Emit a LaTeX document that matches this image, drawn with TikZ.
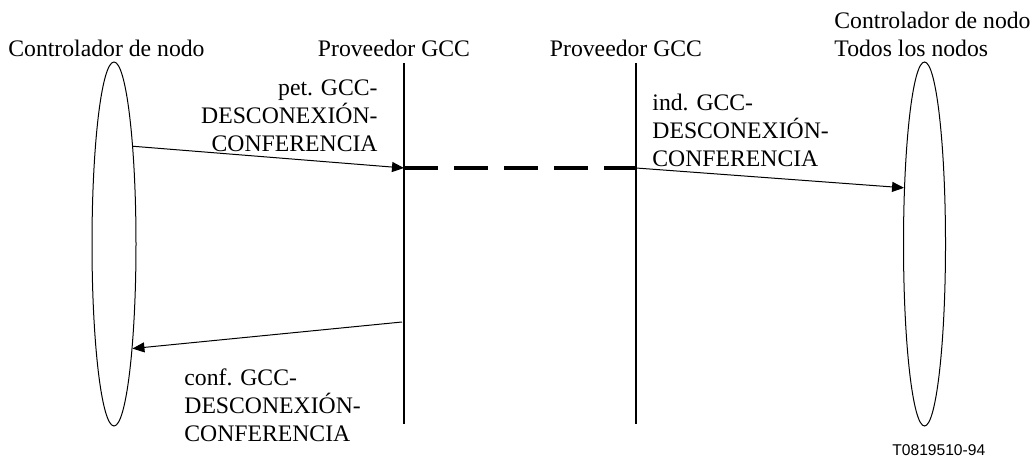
\documentclass[tikz,border=0pt]{standalone}
\usepackage{fontspec}
\setmainfont{Liberation Serif}
\newfontfamily\figsans{Liberation Sans}
\usepackage{tikz}
\usetikzlibrary{arrows.meta, shapes.geometric}

\begin{document}
\begin{tikzpicture}[x=0.5pt, y=-0.5pt,
    every node/.style={font=\fontsize{11.85}{14}\selectfont, inner sep=0pt},
    station/.style={draw, ellipse, line width=0.5pt, minimum width=22pt, minimum height=182pt},
    lifeline/.style={line width=1pt},
    msg/.style={line width=0.5pt, -{Triangle[length=6pt, width=5pt]}},
    link/.style={line width=2pt, dash pattern=on 17pt off 8pt}]
    \useasboundingbox (0,0) rectangle (1032,459);

    % entities
    \node[station] (ctrlA) at (114,244) {};
    \node[station, minimum width=21pt] (ctrlB) at (924.5,244) {};
    \node[anchor=base west] (ctrlAlbl) at (8,57) {Controlador de nodo};
    \node[anchor=base west, align=left] (ctrlBlbl) at (834,57) {Controlador de nodo\\Todos los nodos};
    \node[anchor=base] (provAlbl) at (394,57) {Proveedor GCC};
    \node[anchor=base] (provBlbl) at (626,57) {Proveedor GCC};

    % lifelines of the providers
    \coordinate (provAtop) at (404,63);
    \coordinate (provAbot) at (404,424);
    \coordinate (provBtop) at (636,63);
    \coordinate (provBbot) at (636,424);
    \draw[lifeline] (provAtop) -- (provAbot);
    \draw[lifeline] (provBtop) -- (provBbot);

    % primitives
    \coordinate (petA) at (404,168);
    \coordinate (indB) at (636,168);
    \coordinate (confA) at (402,322);
    \draw[msg] (ctrlA.79.4) -- (petA);
    \draw[link] (petA) -- (indB);
    \draw[msg] (indB) -- (ctrlB.110);
    \draw[msg] (confA) -- (ctrlA.-80);

    \node[anchor=base east, align=right] (petlbl) at (378,152) {pet. GCC-\\DESCONEXIÓN-\\CONFERENCIA};
    \node[anchor=base west, align=left] (indlbl) at (652,167) {ind. GCC-\\DESCONEXIÓN-\\CONFERENCIA};
    \node[anchor=base west, align=left] (conflbl) at (184,441) {conf. GCC-\\DESCONEXIÓN-\\CONFERENCIA};

    \node[anchor=base west, font=\figsans\fontsize{7.8}{9}\selectfont] (figid) at (892,455) {T0819510-94};
\end{tikzpicture}
\end{document}
